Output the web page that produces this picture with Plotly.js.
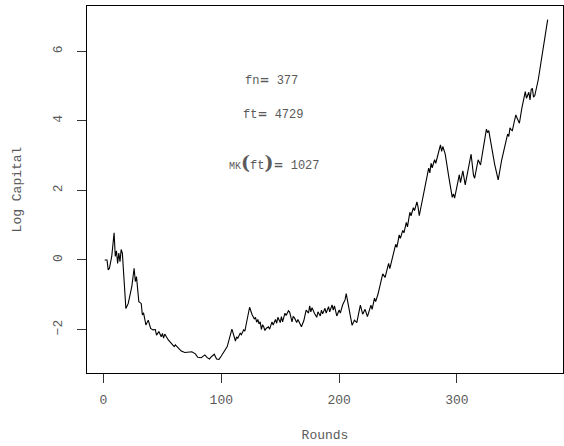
<!DOCTYPE html>
<html>
<head>
<meta charset="utf-8">
<script src="https://cdn.plot.ly/plotly-3.0.1.min.js"></script>
<style>
  html, body { margin: 0; padding: 0; background: #fff; }
  #chart { width: 564px; height: 446px; }
</style>
</head>
<body>
<div id="chart"></div>
<script>
// Turning points of the log-capital path, by round
const rounds = [
  1, 3, 4, 5, 7, 9, 10, 11, 12, 13, 14, 15, 16, 19, 21, 24, 26, 27, 28, 30,
  32, 33, 34, 35, 36, 38, 40, 42, 44, 45, 47, 49, 50, 51, 52, 55, 58, 60, 61, 64,
  66, 69, 72, 75, 78, 80, 83, 86, 88, 90, 91, 94, 96, 98, 100, 105, 109, 110, 112, 113,
  114, 116, 117, 119, 120, 121, 124, 126, 128, 129, 130, 131, 132, 133, 134, 135, 136, 137, 138, 140,
  141, 143, 144, 146, 147, 148, 150, 151, 152, 154, 155, 157, 158, 160, 161, 162, 164, 165, 168, 170,
  172, 174, 175, 176, 177, 179, 181, 182, 184, 185, 186, 188, 189, 191, 192, 194, 195, 196, 198, 200,
  201, 203, 205, 206, 211, 213, 215, 218, 220, 222, 224, 227, 228, 230, 231, 233, 237, 239, 242, 243,
  247, 248, 249, 251, 252, 254, 255, 257, 258, 260, 261, 263, 264, 266, 267, 268, 276, 277, 278, 279,
  281, 282, 286, 287, 288, 290, 293, 296, 297, 298, 302, 303, 305, 307, 312, 314, 315, 318, 320, 325,
  326, 327, 332, 333, 335, 338, 342, 343, 344, 345, 346, 347, 349, 350, 351, 353, 355, 358, 359, 361,
  362, 363, 364, 365, 366, 369, 377
];
const logCapital = [
  0.00, 0.00, -0.29, -0.24, 0.10, 0.78, 0.10, 0.26, -0.10, 0.20, -0.05, 0.30, 0.20, -1.40, -1.25, -0.77, -0.24, -0.62, -0.48, -1.20,
  -1.25, -1.58, -1.52, -1.73, -1.87, -1.73, -1.97, -2.01, -2.00, -2.16, -2.06, -2.21, -2.11, -2.25, -2.13, -2.30, -2.40, -2.49, -2.44, -2.54,
  -2.62, -2.66, -2.64, -2.64, -2.70, -2.80, -2.81, -2.73, -2.81, -2.85, -2.80, -2.71, -2.85, -2.86, -2.76, -2.49, -1.99, -2.10, -2.33, -2.21,
  -2.25, -2.11, -2.15, -2.01, -2.05, -1.87, -1.36, -1.56, -1.70, -1.65, -1.79, -1.71, -1.84, -1.78, -2.00, -1.86, -1.92, -2.03, -1.97, -1.92,
  -1.99, -1.78, -1.87, -1.71, -1.82, -1.65, -1.80, -1.63, -1.78, -1.53, -1.60, -1.46, -1.50, -1.78, -1.63, -1.66, -1.80, -1.71, -1.92, -1.75,
  -1.44, -1.53, -1.32, -1.49, -1.37, -1.53, -1.65, -1.49, -1.61, -1.44, -1.55, -1.39, -1.53, -1.34, -1.49, -1.29, -1.44, -1.32, -1.61, -1.44,
  -1.53, -1.29, -1.15, -0.97, -1.88, -1.73, -1.80, -1.30, -1.56, -1.42, -1.63, -1.30, -1.42, -1.10, -1.20, -0.98, -0.40, -0.50, -0.10, -0.25,
  0.35, 0.45, 0.36, 0.72, 0.62, 0.85, 0.78, 1.08, 0.95, 1.37, 1.27, 1.50, 1.42, 1.67, 1.52, 1.27, 2.64, 2.50, 2.78, 2.65,
  2.88, 2.78, 3.31, 3.12, 3.26, 3.05, 2.40, 1.80, 1.90, 1.78, 2.45, 2.22, 2.56, 2.16, 3.04, 2.44, 2.35, 2.88, 2.73, 3.76,
  3.66, 3.72, 2.75, 2.62, 2.30, 2.88, 3.55, 3.62, 3.55, 3.80, 3.74, 3.72, 4.03, 4.17, 4.08, 3.93, 4.35, 4.84, 4.65, 4.82,
  4.60, 4.90, 4.93, 4.68, 4.72, 5.18, 6.91
];

// Summary statistics printed inside the plot
const statLabels = ['fn', 'ft', 'MK(ft)'];
const statValues = [377, 4729, 1027];
const statX = [143, 144, 145];
const statY = [5.16, 4.17, 2.83];

const xTicks = [0, 100, 200, 300];
const yTicks = [-2, 0, 2, 4, 6];

const FONT = '"Liberation Mono", "DejaVu Sans Mono", monospace';
const TXT = '#5a5a5a';

function statText(label, value) {
  const eq = '<span style="font-family:DejaVu Sans;font-weight:bold;font-size:12px">=</span>';
  if (label === 'MK(ft)') {
    const lp = '<span style="font-family:DejaVu Serif;font-weight:bold;font-size:19px">(</span>';
    const rp = '<span style="font-family:DejaVu Serif;font-weight:bold;font-size:19px">)</span>';
    return '<span style="font-size:10px">MK</span>' + lp + 'ft' + rp + eq + ' ' + value;
  }
  return label + eq + ' ' + value;
}

const annotations = statLabels.map((lab, i) => ({
  x: statX[i], y: statY[i], xref: 'x', yref: 'y',
  text: statText(lab, statValues[i]),
  showarrow: false, xanchor: 'center', yanchor: 'middle',
  font: { family: FONT, size: 12, color: TXT }
}));

const trace = {
  x: rounds,
  y: logCapital,
  type: 'scatter',
  mode: 'lines',
  line: { color: '#000', width: 1.1 },
  hoverinfo: 'skip'
};

const axisCommon = {
  showgrid: false, zeroline: false,
  showline: true, mirror: true, linecolor: '#000', linewidth: 1,
  ticks: 'outside', ticklen: 9, tickwidth: 1, tickcolor: '#333',
  tickfont: { family: FONT, size: 13, color: TXT },
  tickmode: 'array'
};

const layout = {
  width: 564, height: 446,
  margin: { l: 87, r: 1, t: 6, b: 73 },
  paper_bgcolor: '#fff', plot_bgcolor: '#fff',
  showlegend: false,
  xaxis: Object.assign({}, axisCommon, {
    range: [-14, 390],
    tickvals: xTicks, ticktext: xTicks.map(String),
    ticklabelstandoff: 5,
    title: { text: 'Rounds', font: { family: FONT, size: 13, color: TXT }, standoff: 23 }
  }),
  yaxis: Object.assign({}, axisCommon, {
    range: [-3.25, 7.30],
    tickvals: yTicks, ticktext: yTicks.map(v => v < 0 ? '\u2212' + Math.abs(v) : String(v)),
    tickangle: -90,
    ticklabelstandoff: 10,
    title: { text: 'Log Capital', font: { family: FONT, size: 13, color: TXT }, standoff: 26 }
  }),
  annotations: annotations
};

Plotly.newPlot('chart', [trace], layout, { staticPlot: true, displayModeBar: false });
</script>
</body>
</html>
